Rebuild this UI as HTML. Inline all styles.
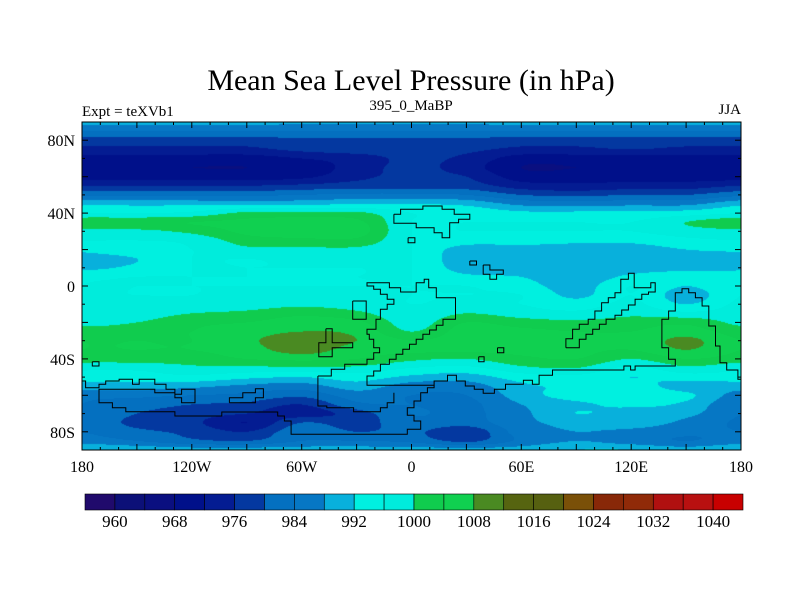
<!DOCTYPE html>
<html><head><meta charset="utf-8"><style>
body{margin:0;background:#fff;width:800px;height:600px;overflow:hidden;position:relative;font-family:"Liberation Serif",serif}
#map{position:absolute;left:82px;top:122px}
svg{position:absolute;left:0;top:0}
</style></head><body>
<canvas id="map" width="659" height="328"></canvas>
<svg id="ov" width="800" height="600">
<text x="411" y="90" text-anchor="middle" font-size="30">Mean Sea Level Pressure (in hPa)</text>
<text x="82" y="116" font-size="15">Expt = teXVb1</text>
<text x="411" y="110" text-anchor="middle" font-size="15">395_0_MaBP</text>
<text x="741" y="114" text-anchor="end" font-size="15">JJA</text>
<g id="coast" fill="none" stroke="#000" stroke-width="1"></g>
<rect x="82" y="122" width="659" height="328" fill="none" stroke="#000" stroke-width="1"/>
<g id="ticks" stroke="#000" stroke-width="1"></g>
<g id="labels" font-size="16"></g>
<g id="cbar"></g>
</svg>
<script>
const lons=[-180,-150,-120,-90,-60,-30,0,30,60,90,120,150];
const lats=[90,85,80,75,70,65,60,55,50,45,40,35,30,25,20,15,10,5,0,-5,-10,-15,-20,-25,-30,-35,-40,-45,-50,-55,-60,-65,-70,-75,-80,-85,-90];
const c_m180=[989,984,978,975,970,968,970,976,983,991,996,1003,999,996,993,990,991,995,996,996,997,998,999,1002,1004,1004,1002,997,994,990,986,984,984,983,984,986,992];
const c_m150=[989,984,978,975,970,968,970,976,983,991,996,1003,999,996,995,992,993,996,996,996,997,998,1000,1003,1004,1004,1002,997,994,990,985,982,980,979,981,984,991];
const c_m120=[989,984,978,975,970,968,970,976,983,991,997,1004,1001,997,996,996,996,996,996,996,997,1000,1003,1004,1004,1004,1002,999,995,989,984,980,978,977,979,981,990];
const c_m90=[989,984,978,975,970,968,970,976,983,991,1001,1005,1005,1002,999,996,996,996,996,997,998,1001,1004,1006,1007,1006,1004,999,993,987,983,979,976,972,976,980,990];
const c_m60=[989,984,979,977,972,969,971,977,984,991,1001,1006,1006,1003,999,997,996,996,996,997,999,1003,1006,1008,1011,1010,1005,999,992,986,981,976,974,980,983,984,990];
const c_m30=[989,984,979,978,974,974,975,978,985,992,1001,1005,1006,1003,999,997,996,996,996,997,998,1001,1005,1007,1008,1006,1004,999,994,990,986,983,978,978,980,984,990];
const c_0=[989,984,979,978,977,977,977,978,985,992,996,996,996,996,996,996,996,996,996,996,996,997,998,1000,1004,1005,1001,996,991,986,984,984,984,983,981,983,990];
const c_30=[989,984,979,977,975,974,976,978,984,991,995,996,996,994,990,989,990,993,996,996,997,1000,1004,1006,1006,1005,1000,995,990,986,984,983,983,982,977,979,990];
const c_60=[989,984,978,975,970,968,970,974,980,987,993,996,996,994,990,989,990,992,994,996,996,998,1002,1005,1005,1005,1003,999,994,991,990,988,987,987,986,985,990];
const c_90=[989,984,978,975,970,968,970,973,979,986,993,996,996,993,990,989,989,989,990,991,994,997,1001,1004,1005,1005,1004,1000,995,993,994,991,992,989,988,988,992];
const c_120=[989,984,978,976,970,968,970,974,980,987,993,996,996,993,990,989,990,993,996,996,997,999,1002,1004,1005,1004,1000,995,992,994,995,993,990,990,987,986,992];
const c_150=[989,984,978,975,970,968,970,974,980,987,994,1000,998,995,992,990,991,994,992,990,992,997,1003,1006,1009,1008,1004,999,994,990,993,991,989,987,985,984,990];
const levels=[960,964,968,972,976,980,984,988,992,996,1000,1004,1008,1012,1016,1020,1024,1028,1032,1036,1040];
const cbLabels=[960,968,976,984,992,1000,1008,1016,1024,1032,1040];
const colors=['#200a6c','#0c1078','#0a0f80','#00108a','#041c92','#0438a0','#0470c0','#0677c4','#08b0dc','#00f0e0','#00ecdc','#10cc4e','#10d050','#4a8a22','#566410','#566010','#7a5008','#882808','#902a08','#b01010','#b81010','#c80000'];
const lonTicks=[-180,-120,-60,0,60,120,180];
const lonTickLabels=['180','120W','60W','0','60E','120E','180'];
const latTicks=[80,40,0,-40,-80];
const latTickLabels=['80N','40N','0','40S','80S'];

const cols=[c_m180,c_m150,c_m120,c_m90,c_m60,c_m30,c_0,c_30,c_60,c_90,c_120,c_150];
const X0=82,Y0=122,W=659,H=328;
const xOf=lon=>X0+(lon+180)/360*W;
const yOf=lat=>Y0+(90-lat)/180*H;
function cr(p0,p1,p2,p3,t){return 0.5*((2*p1)+(-p0+p2)*t+(2*p0-5*p1+4*p2-p3)*t*t+(-p0+3*p1-3*p2+p3)*t*t*t);}
function val(lon,lat){
  const nc=cols.length, dl=360/nc;
  let fx=(lon+180)/dl; let i=Math.floor(fx); let tx=fx-i;
  const fy=(90-lat)/5; let j=Math.floor(fy); if(j>lats.length-2)j=lats.length-2; const ty=fy-j;
  const rows=[];
  for(let dj=-1;dj<=2;dj++){
    const jj=Math.min(lats.length-1,Math.max(0,j+dj));
    const p=[];
    for(let di=-1;di<=2;di++){const ii=((i+di)%nc+nc)%nc;p.push(cols[ii][jj]);}
    rows.push(cr(p[0],p[1],p[2],p[3],tx));
  }
  return cr(rows[0],rows[1],rows[2],rows[3],ty);
}
const rgb=colors.map(c=>[parseInt(c.substr(1,2),16),parseInt(c.substr(3,2),16),parseInt(c.substr(5,2),16)]);
const ctx=document.getElementById('map').getContext('2d');
const img=ctx.createImageData(W,H);
for(let py=0;py<H;py++){
  const lat=90-(py+0.5)/H*180;
  for(let px=0;px<W;px++){
    const lon=-180+(px+0.5)/W*360;
    const v=val(lon,lat);
    let k=0;while(k<levels.length&&v>=levels[k])k++;
    const c=rgb[k],o=(py*W+px)*4;
    img.data[o]=c[0];img.data[o+1]=c[1];img.data[o+2]=c[2];img.data[o+3]=255;
  }
}
ctx.putImageData(img,0,0);

const NS='http://www.w3.org/2000/svg';
function mk(tag,attrs,parent){const e=document.createElementNS(NS,tag);for(const k in attrs)e.setAttribute(k,attrs[k]);parent.appendChild(e);return e;}
const coastShapes=[
[[750,345],[765,345],[765,330],[815,330],[815,320],[858,320],[858,330],[885,330],[885,345],[920,345],[920,360],[895,360],[895,370],[875,370],[875,415],[858,415],[858,400],[840,400],[840,385],[800,385],[800,372],[750,372],[750,345]],
[[782,415],[797,415],[797,430],[782,430],[782,415]],
[[920,485],[935,485],[935,497],[920,497],[920,485]],
[[950,497],[965,497],[965,512],[995,512],[995,525],[980,525],[980,540],[965,540],[965,525],[950,525],[950,497]],
[[940,772],[952,772],[952,787],[940,787],[940,772]],
[[982,745],[996,745],[996,760],[982,760],[982,745]],
[[75,787],[90,787],[90,800],[75,800],[75,787]],
[[658,605],[688,605],[688,660],[658,660],[658,605]],
[[598,688],[612,688],[612,730],[658,730],[658,745],[612,745],[612,772],[582,772],[582,730],[598,730],[598,688]],
[[580,830],[610,830],[610,810],[640,810],[640,795],[690,795],[690,780],[705,780],[705,760],[718,760],[718,745],[705,745],[705,720],[695,720],[695,705],[690,705],[690,690],[710,690],[710,660],[720,660],[720,630],[735,630],[735,615],[750,615],[750,600],[735,600],[735,585],[720,585],[720,570],[705,570],[705,560],[690,560],[690,550],[740,550],[740,565],[765,565],[765,578],[800,578],[800,550],[818,550],[818,540],[828,540],[828,565],[845,565],[845,595],[888,595],[888,660],[860,660],[860,678],[845,678],[845,692],[830,692],[830,705],[815,705],[815,720],[800,720],[800,735],[785,735],[785,750],[770,750],[770,765],[755,765],[755,780],[740,780],[740,795],[720,795],[720,815],[705,815],[705,830],[690,830],[690,858],[840,858],[840,845],[870,845],[870,828],[890,828],[890,845],[910,845],[910,860],[930,860],[930,870],[950,870],[950,882],[975,882],[975,870],[1000,870],[1000,855],[1040,855],[1040,843],[1060,843],[1060,855],[1075,855],[1075,828],[1105,828],[1105,812],[1265,812],[1265,800],[1280,800],[1280,812],[1290,812],[1290,800],[1380,800],[1380,780],[1365,780],[1365,745],[1350,745],[1350,660],[1365,660],[1365,635],[1380,635],[1380,580],[1395,580],[1395,568],[1410,568],[1410,580],[1425,580],[1425,595],[1440,595],[1440,620],[1455,620],[1455,680],[1470,680],[1470,740],[1480,740],[1480,790],[1495,790],[1495,812],[1520,812],[1520,840],[1527,840]],
[[1135,745],[1165,745],[1165,720],[1180,720],[1180,705],[1195,705],[1195,690],[1210,690],[1210,675],[1225,675],[1225,660],[1245,660],[1245,648],[1260,648],[1260,632],[1275,632],[1275,617],[1290,617],[1290,600],[1305,600],[1305,585],[1320,585],[1320,578],[1335,578],[1335,550],[1325,550],[1325,565],[1288,565],[1288,522],[1275,522],[1275,540],[1258,540],[1258,580],[1245,580],[1245,595],[1230,595],[1230,610],[1215,610],[1215,635],[1200,635],[1200,660],[1185,660],[1185,675],[1165,675],[1165,690],[1150,690],[1150,718],[1135,718],[1135,745]],
[[580,830],[580,920],[600,920],[600,925],[660,925],[660,937],[720,937],[720,925],[735,925],[735,910],[750,910],[750,880]],
[[52,845],[60,845],[60,865],[90,865],[90,855],[105,855],[105,845],[135,845],[135,840],[165,840],[165,855],[180,855],[180,840],[215,840],[215,855],[240,855],[240,870],[260,870],[260,885],[275,885],[275,870],[305,870],[305,910],[275,910],[275,895],[260,895],[260,880],[215,880],[215,870],[120,870],[105,870],[90,870],[90,910],[120,910],[120,925],[150,925],[150,937],[260,937],[260,950],[365,950],[365,938],[490,938],[490,950],[505,950],[505,965],[520,965],[520,1005],[780,1005],[780,990],[810,990],[810,965],[795,965],[795,948],[780,948],[780,925],[795,925],[795,905],[810,905],[810,880],[825,880],[825,865],[840,865],[840,858]],
[[382,910],[382,895],[412,895],[412,880],[440,880],[440,868],[458,868],[458,895],[440,895],[440,910],[382,910]]
];
const coast=document.getElementById('coast');
coastShapes.forEach((s,k)=>{
  const pts=s.map(p=>(X0+(p[0]-52)*W/1475).toFixed(1)+','+(Y0+(p[1]-68)/3).toFixed(1)).join(' ');
  const e=mk('polyline',{points:pts},coast);
  
  
});
const tg=document.getElementById('ticks');
for(let lon=-180;lon<=180;lon+=10){
  const x=xOf(lon).toFixed(1), L=(lon%30===0)?6:3;
  mk('line',{x1:x,y1:Y0,x2:x,y2:Y0+L},tg);
  mk('line',{x1:x,y1:Y0+H,x2:x,y2:Y0+H-L},tg);
}
for(let lat=-90;lat<=90;lat+=10){
  const y=yOf(lat).toFixed(1), L=(lat%20===0)?6:3;
  mk('line',{x1:X0,y1:y,x2:X0+L,y2:y},tg);
  mk('line',{x1:X0+W,y1:y,x2:X0+W-L,y2:y},tg);
}
const lg=document.getElementById('labels');
lonTicks.forEach((lon,i)=>{
  const t=mk('text',{x:xOf(lon),y:472,'text-anchor':'middle'},lg);
  t.textContent=lonTickLabels[i];
  
  
});
latTicks.forEach((lat,i)=>{
  const t=mk('text',{x:75,y:yOf(lat)+6,'text-anchor':'end'},lg);
  t.textContent=latTickLabels[i];
  
  
});
const cb=document.getElementById('cbar');
const CBX=85,CBW=658/colors.length,CBY=494,CBH=16;
colors.forEach((c,k)=>{
  const r=mk('rect',{x:CBX+k*CBW,y:CBY,width:CBW,height:CBH,fill:c,stroke:'#000','stroke-width':0.6},cb);
  
  
});
cbLabels.forEach(v=>{
  const k=levels.indexOf(v)+1;
  const t=mk('text',{x:CBX+k*CBW,y:CBY+CBH+17,'text-anchor':'middle','font-size':17},cb);
  t.textContent=v;
  
  
});
</script>
</body></html>
